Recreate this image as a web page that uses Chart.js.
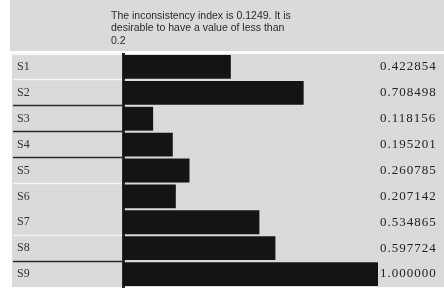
<!DOCTYPE html>
<html>
<head>
<meta charset="utf-8">
<script src="https://cdn.jsdelivr.net/npm/chart.js@4/dist/chart.umd.min.js"></script>
<style>
  html, body { margin: 0; padding: 0; background: #fff; }
  #wrap { width: 444px; height: 291px; }
</style>
</head>
<body>
<div id="wrap"><canvas id="weightsChart" width="444" height="291"></canvas></div>
<script>
// criteria and their normalised weights
const criteria = ['S1', 'S2', 'S3', 'S4', 'S5', 'S6', 'S7', 'S8', 'S9'];
const weights = [0.422854, 0.708498, 0.118156, 0.195201, 0.260785, 0.207142, 0.534865, 0.597724, 1.000000];
const titleLines = [
  'The inconsistency index is 0.1249. It is',
  'desirable to have a value of less than',
  '0.2'
];
// row separators in the label column: dark / light / none
const separatorColors = ['#f4f4f4', '#f4f4f4', '#2a2a2a', '#2a2a2a', '#2a2a2a', '#f4f4f4', 'rgba(0,0,0,0)', '#f4f4f4', '#2a2a2a', '#2a2a2a'];

const GRAY = '#dadada';

// backgrounds + title text
const panelPlugin = {
  id: 'panel',
  beforeDraw(chart) {
    const { ctx, chartArea, width } = chart;
    ctx.save();
    ctx.fillStyle = '#fff';
    ctx.fillRect(0, 0, width, chart.height);
    ctx.fillStyle = GRAY;
    ctx.fillRect(10, 0, width - 10, 51);
    ctx.fillRect(12, chartArea.top, width - 12, chartArea.bottom - chartArea.top);
    ctx.fillStyle = '#2b2b2b';
    ctx.font = '10.5px "Liberation Sans", Arial, sans-serif';
    ctx.textBaseline = 'middle';
    ctx.textAlign = 'left';
    titleLines.forEach((line, i) => ctx.fillText(line, 111, 16 + i * 12.5));
    ctx.restore();
  }
};

// value at the right end of every row
const valueLabels = {
  id: 'valueLabels',
  afterDatasetsDraw(chart) {
    const { ctx } = chart;
    const meta = chart.getDatasetMeta(0);
    ctx.save();
    ctx.fillStyle = '#222';
    ctx.font = '13px "Liberation Serif", "Times New Roman", serif';
    ctx.letterSpacing = '1px';
    ctx.textAlign = 'left';
    ctx.textBaseline = 'middle';
    meta.data.forEach((bar, i) => {
      ctx.fillText(weights[i].toFixed(6), 380, bar.y);
    });
    ctx.restore();
  }
};

new Chart(document.getElementById('weightsChart').getContext('2d'), {
  type: 'bar',
  data: {
    labels: criteria,
    datasets: [{
      data: weights,
      backgroundColor: '#141414',
      borderWidth: 0,
      barPercentage: 0.92,
      categoryPercentage: 1
    }]
  },
  options: {
    indexAxis: 'y',
    responsive: false,
    animation: false,
    layout: { padding: { top: 54, bottom: 4, left: 17, right: 66 } },
    plugins: {
      legend: { display: false },
      title: { display: false },
      tooltip: { enabled: false }
    },
    scales: {
      x: { display: false, min: 0, max: 1 },
      y: {
        afterFit(scale) {
          scale.width = 106;
          scale.paddingTop = 0;
          scale.paddingBottom = 0;
        },
        border: { display: true, color: '#2a2a2a', width: 3 },
        grid: {
          offset: true,
          drawOnChartArea: false,
          tickLength: 110,
          tickWidth: 1.5,
          tickColor: ctx => separatorColors[ctx.index] || 'rgba(0,0,0,0)'
        },
        ticks: {
          crossAlign: 'far',
          color: '#333',
          font: { family: '"Liberation Serif", "Times New Roman", serif', size: 12 }
        }
      }
    }
  },
  plugins: [panelPlugin, valueLabels]
});
</script>
</body>
</html>
